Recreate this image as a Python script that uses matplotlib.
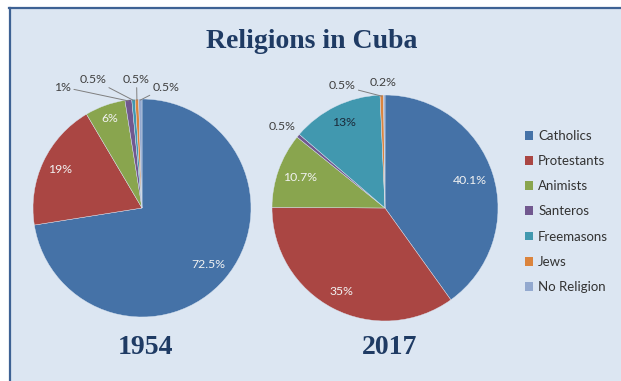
import numpy as np
import matplotlib
matplotlib.use("Agg")
import matplotlib.pyplot as plt
from matplotlib.patches import Rectangle, Patch

categories = ["Catholics", "Protestants", "Animists", "Santeros", "Freemasons", "Jews", "No Religion"]
values_1954 = [72.5, 19, 6, 1, 0.5, 0.5, 0.5]
labels_1954 = ["72.5%", "19%", "6%", "1%", "0.5%", "0.5%", "0.5%"]
values_2017 = [40.1, 35, 10.7, 0.5, 13, 0.5, 0.2]
labels_2017 = ["40.1%", "35%", "10.7%", "0.5%", "13%", "0.5%", "0.2%"]
colors = ["#4572A7", "#AA4643", "#89A54E", "#71588F", "#4198AF", "#DB843D", "#93A9CF"]
title = "Religions in Cuba"
years = ["1954", "2017"]

W, H = 621, 381
fig = plt.figure(figsize=(W / 100, H / 100), dpi=100)
fig.patch.set_facecolor("white")

# background panel
bg = Rectangle((9 / W, 0), 1 - 9 / W, 1 - 9 / H, transform=fig.transFigure,
               facecolor="#DCE6F2", edgecolor="none", zorder=-5)
fig.patches.append(bg)
fig.add_artist(plt.Line2D([9 / W, 1], [1 - 8 / H, 1 - 8 / H], transform=fig.transFigure,
                          color="#3E6294", lw=1.6, zorder=-4))
fig.add_artist(plt.Line2D([9.5 / W, 9.5 / W], [0, 1 - 8 / H], transform=fig.transFigure,
                          color="#3E6294", lw=1.6, zorder=-4))

SERIF = "Liberation Serif"
SANS = "Lato"
LFS = 8.8


def make_ax(cx, cy, R):
    half = 1.5 * R
    ax = fig.add_axes([(cx - half) / W, (H - cy - half) / H, 2 * half / W, 2 * half / H])
    return ax


def draw_pie(ax, values, labels, inner, outer):
    wedges, _ = ax.pie(values, colors=colors, startangle=90, counterclock=False,
                       wedgeprops=dict(linewidth=0.3, edgecolor="#DCE6F2"))
    ax.set_xlim(-1.5, 1.5)
    ax.set_ylim(-1.5, 1.5)
    ax.set_aspect("equal")
    ax.axis("off")
    for i, w in enumerate(wedges):
        mid = np.deg2rad((w.theta1 + w.theta2) / 2)
        if i in inner:
            d, col = inner[i]
            ax.text(d * np.cos(mid), d * np.sin(mid), labels[i], ha="center", va="center",
                    fontsize=LFS, color=col, family=SANS)
        elif i in outer:
            tx, ty, ha, line = outer[i]
            if line:
                ax.annotate(labels[i], xy=(0.99 * np.cos(mid), 0.99 * np.sin(mid)), xytext=(tx, ty),
                            ha=ha, va="center", fontsize=LFS, color="#404040", family=SANS,
                            arrowprops=dict(arrowstyle="-", color="#7F7F7F", lw=0.7,
                                            shrinkA=0, shrinkB=0))
            else:
                ax.text(tx, ty, labels[i], ha=ha, va="center", fontsize=LFS, color="#404040",
                        family=SANS)
    return wedges


ax1 = make_ax(142, 208, 109)
w1 = draw_pie(ax1, values_1954, labels_1954,
              inner={0: (0.8, "#F2F2F2"), 1: (0.83, "#F2F2F2"), 2: (0.87, "#F2F2F2")},
              outer={3: (-0.65, 1.11, "right", True), 4: (-0.45, 1.18, "center", True),
                     5: (-0.05, 1.18, "center", True), 6: (0.22, 1.11, "center", True)})

ax2 = make_ax(385, 208, 113)
w2 = draw_pie(ax2, values_2017, labels_2017,
              inner={0: (0.79, "#F2F2F2"), 1: (0.83, "#F2F2F2"), 2: (0.8, "#F2F2F2"),
                     4: (0.84, "#1B2A3A")},
              outer={3: (-0.91, 0.72, "center", False), 5: (-0.26, 1.08, "right", True),
                     6: (-0.02, 1.115, "center", False)})

fig.text(312 / W, 1 - 42 / H, title, ha="center", va="center", fontsize=20,
         fontweight="bold", family=SERIF, color="#1F3B64")
fig.text(145 / W, 1 - 347 / H, years[0], ha="center", va="center", fontsize=20,
         fontweight="bold", family=SERIF, color="#1F3B64")
fig.text(390 / W, 1 - 347 / H, years[1], ha="center", va="center", fontsize=20,
         fontweight="bold", family=SERIF, color="#1F3B64")

handles = [Patch(facecolor=c, edgecolor="none") for c in colors]
fig.legend(handles, categories, loc="upper left", bbox_to_anchor=(513 / W, 1 - 118 / H),
           frameon=False, prop={"family": SANS, "size": 9.5}, handlelength=0.65,
           handleheight=0.65, handletextpad=0.35, labelspacing=1.0, labelcolor="#333333")

fig.savefig("out.png", dpi=100, facecolor="white")
